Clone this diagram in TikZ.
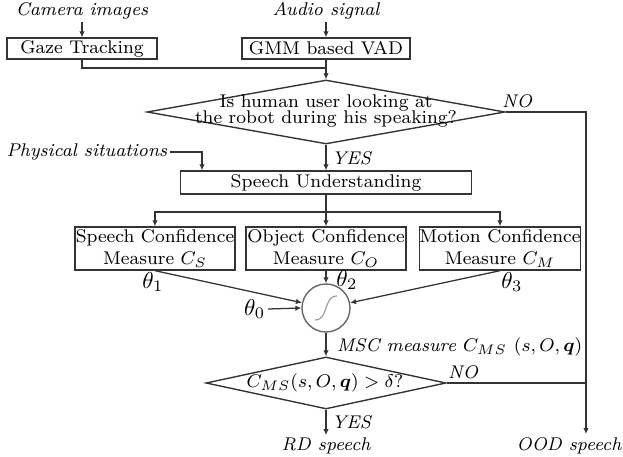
\documentclass[tikz,border=0pt]{standalone}
\usepackage{amsmath}
\usetikzlibrary{arrows.meta,shapes.geometric,calc}
\newcommand\pxu{0.435pt}
\begin{document}
\begin{tikzpicture}[x=0.435pt,y=-0.435pt,
  box/.style={draw=black!80, line width=0.6pt, rectangle, inner sep=0pt, font=\footnotesize, align=center},
  dia/.style={draw=black!80, line width=0.6pt, diamond, inner sep=0pt},
  lbl/.style={font=\footnotesize\itshape, inner sep=1pt},
  txt/.style={font=\footnotesize, align=center, inner sep=0pt},
  thl/.style={font=\normalsize, inner sep=1pt},
  arr/.style={-{Latex[length=2.6pt,width=2.4pt]}},
  ln/.style={draw=black!80, line width=0.55pt}]
\useasboundingbox (0,0) rectangle (623,457);
% top inputs
\node[lbl] (cam) at (82,11) {Camera images};
\node[lbl] (aud) at (326,11) {Audio signal};
\node[box, minimum width=150*\pxu, minimum height=21*\pxu] (gaze) at (82,48.5) {Gaze Tracking};
\node[box, minimum width=168*\pxu, minimum height=21*\pxu] (gmm) at (326,48.5) {GMM based VAD};
\coordinate (j1) at (326,68);
% decision 1
\node[dia, minimum width=358*\pxu, minimum height=64*\pxu] (d1) at (326,112) {};
\node[txt] (d1t) at (326,111) {Is human user looking at\\[-2.9pt]the robot during his speaking?};
\node[lbl] (no1) at (517,101) {NO};
\node[lbl, anchor=west] (yes1) at (329,158) {YES};
\coordinate (oodtip) at (586,434);
\node[lbl, anchor=east, inner xsep=0.3pt] (ood) at (622.5,446) {OOD speech};
% speech understanding
\node[lbl, anchor=east] (phys) at (170,152) {Physical situations};
\coordinate (pj) at (202,152);
\node[box, minimum width=291*\pxu, minimum height=23*\pxu] (su) at (326,182.5) {Speech Understanding};
\coordinate (br) at (326,212);
% confidence boxes
\node[box, minimum width=160*\pxu, minimum height=43*\pxu] (cs) at (155,248.5) {Speech Confidence\\Measure $C_S$};
\node[box, minimum width=160*\pxu, minimum height=43*\pxu] (co) at (326,248.5) {Object Confidence\\Measure $C_O$};
\node[box, minimum width=160*\pxu, minimum height=43*\pxu] (cm) at (500,248.5) {Motion Confidence\\Measure $C_M$};
% sigmoid unit
\node[circle, draw=black!60, line width=0.6pt, minimum size=48*\pxu, inner sep=0pt] (sig) at (326,308) {};
\node[thl] (th1) at (153,282) {$\theta_1$};
\node[thl] (th2) at (347,280) {$\theta_2$};
\node[thl] (th3) at (512,282) {$\theta_3$};
\node[thl, anchor=east] (th0) at (268,309) {$\theta_0$};
% MSC and decision 2
\node[lbl, anchor=west] (msc) at (334,347) {MSC measure $C_{MS}$ $(s, O, \boldsymbol{q})$};
\node[dia, minimum width=240*\pxu, minimum height=52*\pxu] (d2) at (326,383) {};
\node[txt] (d2t) at (325,383) {$C_{MS}(s,O,\boldsymbol{q})>\delta$?};
\node[lbl] (no2) at (463,372) {NO};
\node[lbl, anchor=west] (yes2) at (329,422) {YES};
\node[lbl] (rd) at (326,446) {RD speech};
% connectors
\draw[ln,arr] (cam) -- (gaze);
\draw[ln,arr] (aud) -- (gmm);
\draw[ln] (gaze.south) |- (j1);
\draw[ln,arr] (gmm.south) -- (d1.north);
\draw[ln,arr] (d1.east) -| (oodtip);
\draw[ln,arr] (d1.south) -- (su.north);
\draw[ln,arr] (phys.east) -- (pj) -- (pj |- su.north);
\draw[ln] (su.south) -- (br);
\draw[ln,arr] (br) -| (cs.north);
\draw[ln,arr] (br) -| (cm.north);
\draw[ln,arr] (br) -- (co.north);
\draw[ln,arr] (cs.south) -- (sig);
\draw[ln,arr] (co.south) -- (sig);
\draw[ln,arr] (cm.south) -- (sig);
\draw[ln,arr] (th0.east) -- (sig.west);
\draw[ln,arr] (sig.south) -- (d2.north);
\draw[ln] (d2.east) -- (d2.east -| oodtip);
\draw[ln,arr] (d2.south) -- (rd.north);
% sigmoid curve
\draw[black!40, line width=0.5pt] ($(sig)+(-11,12)$) .. controls ($(sig)+(3,12)$) and ($(sig)+(-3,-12)$) .. ($(sig)+(11,-12)$);
\end{tikzpicture}
\end{document}
